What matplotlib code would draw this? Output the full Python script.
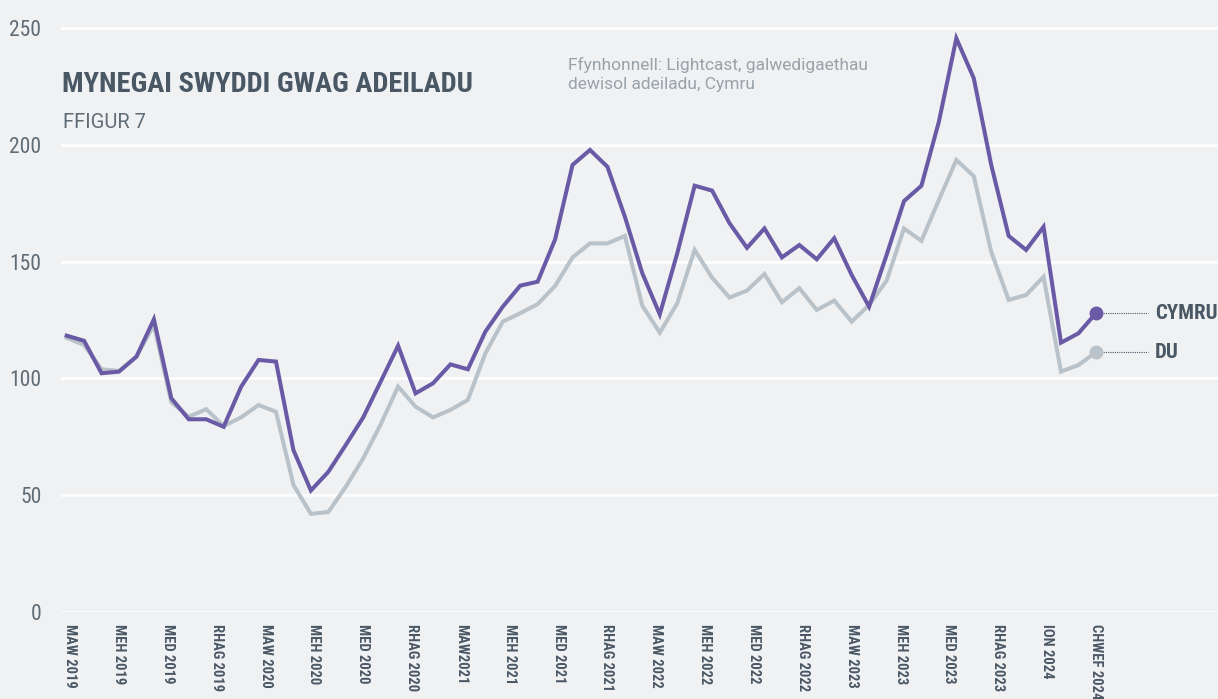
import numpy as np
import matplotlib
matplotlib.use("Agg")
import matplotlib.pyplot as plt
from matplotlib import font_manager

# Data (index, monthly from Mar 2019 to Feb 2024)
cymru = [118.3, 116.1, 102.2, 102.9, 109.3, 125.3, 91.5, 82.5, 82.5, 79.3,
         96.4, 107.9, 107.2, 69.3, 52.0, 60.0, 71.5, 83.3, 98.6, 114.0,
         93.6, 97.9, 106.0, 103.9, 120.0, 130.7, 139.7, 141.4, 159.5, 191.4,
         197.8, 190.6, 169.2, 145.0, 127.4, 153.5, 182.5, 180.4, 166.4, 155.9,
         164.2, 151.8, 157.1, 151.0, 160.0, 144.3, 130.7, 152.8, 175.9, 182.5,
         209.9, 245.6, 228.5, 191.4, 161.0, 155.0, 164.9, 115.3, 119.3, 127.9]
du = [117.4, 114.3, 103.9, 103.2, 109.3, 122.9, 89.8, 83.6, 86.8, 79.6,
      83.3, 88.6, 85.7, 54.4, 42.0, 42.8, 53.6, 65.8, 80.3, 96.5,
      87.9, 83.3, 86.5, 90.8, 110.7, 124.3, 127.9, 131.8, 139.6, 151.8,
      157.8, 157.8, 161.0, 131.1, 119.6, 132.1, 155.0, 143.1, 134.6, 137.6,
      144.7, 132.6, 138.6, 129.3, 133.3, 124.3, 131.4, 141.8, 164.2, 158.9,
      176.4, 193.5, 186.6, 154.2, 133.6, 135.7, 143.5, 102.9, 105.7, 111.2]
tick_labels = ["MAW 2019", "MEH 2019", "MED 2019", "RHAG 2019",
               "MAW 2020", "MEH 2020", "MED 2020", "RHAG 2020",
               "MAW2021", "MEH 2021", "MED 2021", "RHAG 2021",
               "MAW 2022", "MEH 2022", "MED 2022", "RHAG 2022",
               "MAW 2023", "MEH 2023", "MED 2023", "RHAG 2023",
               "ION 2024", "CHWEF 2024"]
series_names = ["CYMRU", "DU"]

names = {f.name for f in font_manager.fontManager.ttflist}
cond = next((n for n in ["Roboto Condensed", "Liberation Sans Narrow", "DejaVu Sans"]
             if n in names), "DejaVu Sans")
light = "Roboto" if "Roboto" in names else "DejaVu Sans"

bg = "#f0f1f3"
purple = "#6a5aa6"
grey = "#b8c2c8"
slate = "#4a5866"

fig = plt.figure(figsize=(12.18, 6.99), dpi=100, facecolor=bg)
ax = fig.add_axes([0.050, 0.1245, 0.950, 0.8755])
ax.set_facecolor(bg)

x = np.arange(len(cymru))
ax.plot(x, du, color=grey, lw=2.9, solid_joinstyle="miter", zorder=3)
ax.plot(x, cymru, color=purple, lw=2.9, solid_joinstyle="miter", zorder=4)

# end markers, leader lines and labels
for vals, col, name in [(cymru, purple, series_names[0]), (du, grey, series_names[1])]:
    xe, ye = x[-1], vals[-1]
    ax.plot([xe], [ye], "o", color=col, ms=9, zorder=5)
    ax.plot([xe + 0.3, xe + 3.0], [ye, ye], ls=(0, (1, 1)), color="#4a5866", lw=0.8, zorder=2)
    ax.text(xe + 3.4, ye, name, color=slate, fontsize=15, fontweight="bold",
            family=cond, fontstretch="condensed", va="center", ha="left")

ax.set_xlim(-0.33, 66)
ax.set_ylim(0, 262)
ax.set_yticks([0, 50, 100, 150, 200, 250])
ax.grid(axis="y", color="white", lw=1.8)
ax.set_axisbelow(True)
for s in ax.spines.values():
    s.set_visible(False)

ax.set_xticks(np.linspace(0.2, 59, len(tick_labels)))
ax.set_xticklabels(tick_labels, rotation=270, fontsize=10.5, fontweight="bold",
                   family=cond, fontstretch="condensed", color=slate)
ax.tick_params(axis="x", length=0, pad=9)
ax.tick_params(axis="y", length=0, pad=14, labelsize=15.5, labelcolor="#5f6b75")
for lab in ax.get_yticklabels():
    lab.set_family(cond)
    lab.set_fontstretch("condensed")

fig.text(0.051, 0.868, "MYNEGAI SWYDDI GWAG ADEILADU", color=slate, fontsize=20.5,
         fontweight="bold", family=cond, fontstretch="condensed", va="baseline", ha="left")
fig.text(0.052, 0.838, "FFIGUR 7", color="#5f6b75", fontsize=14.5, fontweight="normal",
         family=light, va="top", ha="left")
fig.text(0.466, 0.918, "Ffynhonnell: Lightcast, galwedigaethau\ndewisol adeiladu, Cymru",
         color="#99a2a9", fontsize=12.5, fontweight="normal", family=light,
         va="top", ha="left", linespacing=1.3)

fig.savefig("out.png", dpi=100, facecolor=bg)
